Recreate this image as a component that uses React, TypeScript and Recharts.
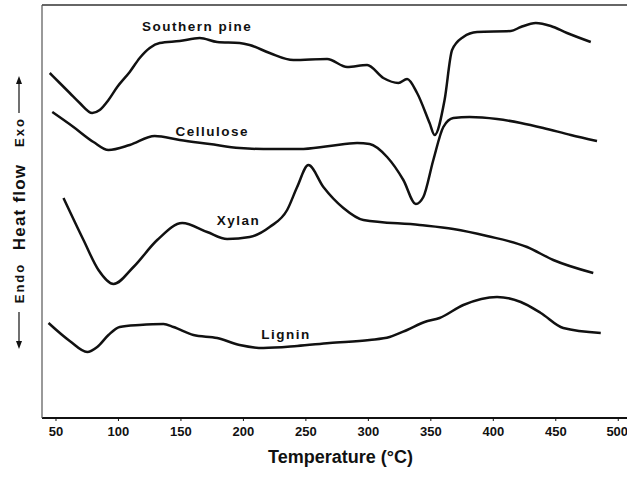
import { LineChart, Line, XAxis, YAxis, ReferenceLine, ReferenceDot } from "recharts";

// temperatures (°C) and heat flow (arbitrary units)
const pineT = [45, 53, 61, 69, 79, 85, 92, 99, 109, 117, 125, 133, 149, 165, 179, 197, 205, 221, 240, 267, 283, 299, 312, 324, 331, 339, 349, 353, 361, 367, 376, 387, 414, 422, 434, 446, 459, 478];
const pineHF = [345, 335, 325, 315, 305, 308, 318, 331, 346, 360, 370, 375, 377, 380, 376, 375, 373, 365, 358, 359, 351, 353, 340, 335, 339, 325, 295, 283, 318, 368, 381, 386, 387, 391, 395, 392, 385, 376];

const celluloseT = [47, 64, 80, 92, 109, 129, 149, 173, 197, 216, 245, 269, 291, 301, 315, 328, 338, 344, 352, 360, 368, 381, 403, 422, 440, 462, 483];
const celluloseHF = [306, 291, 276, 268, 273, 282, 278, 274, 270, 269, 269, 272, 275, 274, 261, 238, 214, 221, 258, 291, 300, 301, 299, 295, 290, 283, 277];

const xylanT = [56, 72, 84, 96, 112, 131, 151, 171, 187, 205, 221, 235, 243, 252, 264, 280, 296, 341, 368, 395, 427, 448, 480];
const xylanHF = [220, 178, 148, 134, 151, 178, 195, 186, 179, 181, 191, 208, 231, 253, 231, 210, 198, 193, 189, 182, 171, 158, 145];

const ligninT = [44, 61, 75, 83, 92, 101, 117, 136, 144, 160, 179, 197, 216, 243, 269, 301, 317, 331, 345, 357, 376, 403, 422, 438, 456, 486];
const ligninHF = [95, 77, 66, 71, 83, 91, 93, 94, 91, 83, 80, 73, 70, 72, 75, 78, 81, 88, 96, 100, 113, 121, 116, 105, 90, 85];

const tempTicks = [50, 100, 150, 200, 250, 300, 350, 400, 450, 500];

// curve names and where their labels sit (temperature, heat flow)
const seriesNames = ["Southern pine", "Cellulose", "Xylan", "Lignin"];
const labelT = [163, 175, 196, 234];
const labelHF = [392, 287, 198, 84];

const zip = (ts: number[], hs: number[]) => ts.map((t, i) => ({ t, hf: hs[i] }));
const series = [zip(pineT, pineHF), zip(celluloseT, celluloseHF), zip(xylanT, xylanHF), zip(ligninT, ligninHF)];

const FONT = "'Liberation Sans', Arial, Helvetica, sans-serif";
const INK = "#111";

function YLabel() {
  const x = 19;
  return (
    <g fill={INK} fontFamily={FONT} fontWeight={700}>
      <text x={x} y={132} transform={`rotate(-90 ${x} 132)`} textAnchor="middle" dominantBaseline="central" fontSize={13} letterSpacing={2}>Exo</text>
      <text x={x} y={207} transform={`rotate(-90 ${x} 207)`} textAnchor="middle" dominantBaseline="central" fontSize={17} letterSpacing={1.2}>Heat flow</text>
      <text x={x} y={283} transform={`rotate(-90 ${x} 283)`} textAnchor="middle" dominantBaseline="central" fontSize={13} letterSpacing={2}>Endo</text>
      <line x1={x} y1={113} x2={x} y2={82} stroke={INK} strokeWidth={1.2} />
      <path d={`M${x - 3},${84} L${x},${76} L${x + 3},${84} Z`} stroke="none" />
      <line x1={x} y1={312} x2={x} y2={343} stroke={INK} strokeWidth={1.2} />
      <path d={`M${x - 3},${341} L${x},${349} L${x + 3},${341} Z`} stroke="none" />
    </g>
  );
}

function XLabel(props: any) {
  const vb = props.viewBox || {};
  return (
    <text x={vb.x + vb.width / 2 + 6} y={vb.y + 45} textAnchor="middle" fill={INK} fontFamily={FONT} fontWeight={700} fontSize={18}>
      Temperature (°C)
    </text>
  );
}

export default function App() {
  return (
    <div style={{ position: "absolute", left: 0, top: 0, background: "#fff" }}>
      <LineChart width={627} height={477} margin={{ top: 5, right: 0, left: 0, bottom: 0 }} style={{ fontFamily: FONT }}>
        <XAxis
          dataKey="t"
          type="number"
          domain={[38.8, 507]}
          ticks={tempTicks}
          allowDataOverflow
          height={59}
          tickSize={3}
          tickMargin={6}
          axisLine={{ stroke: INK, strokeWidth: 2 }}
          tickLine={{ stroke: INK }}
          tick={{ fill: INK, fontSize: 13, fontWeight: 700, fontFamily: FONT }}
          label={<XLabel />}
        />
        <YAxis
          type="number"
          domain={[0, 413]}
          width={42}
          tick={false}
          tickLine={false}
          axisLine={{ stroke: "#555", strokeWidth: 1.2 }}
          label={<YLabel />}
        />
        <ReferenceLine y={413} stroke="#333" strokeWidth={1.5} ifOverflow="extendDomain" />
        {series.map((d, i) => (
          <Line
            key={seriesNames[i]}
            data={d}
            dataKey="hf"
            type="monotone"
            stroke={INK}
            strokeWidth={2.5}
            dot={false}
            isAnimationActive={false}
          />
        ))}
        {seriesNames.map((name, i) => (
          <ReferenceDot
            key={"lbl" + name}
            x={labelT[i]}
            y={labelHF[i]}
            r={0}
            shape={(p: any) => (
              <text x={p.cx} y={p.cy} textAnchor="middle" dominantBaseline="central" fill={INK} fontFamily={FONT} fontWeight={700} fontSize={13.5} letterSpacing={1.5}>
                {name}
              </text>
            )}
          />
        ))}
      </LineChart>
    </div>
  );
}
